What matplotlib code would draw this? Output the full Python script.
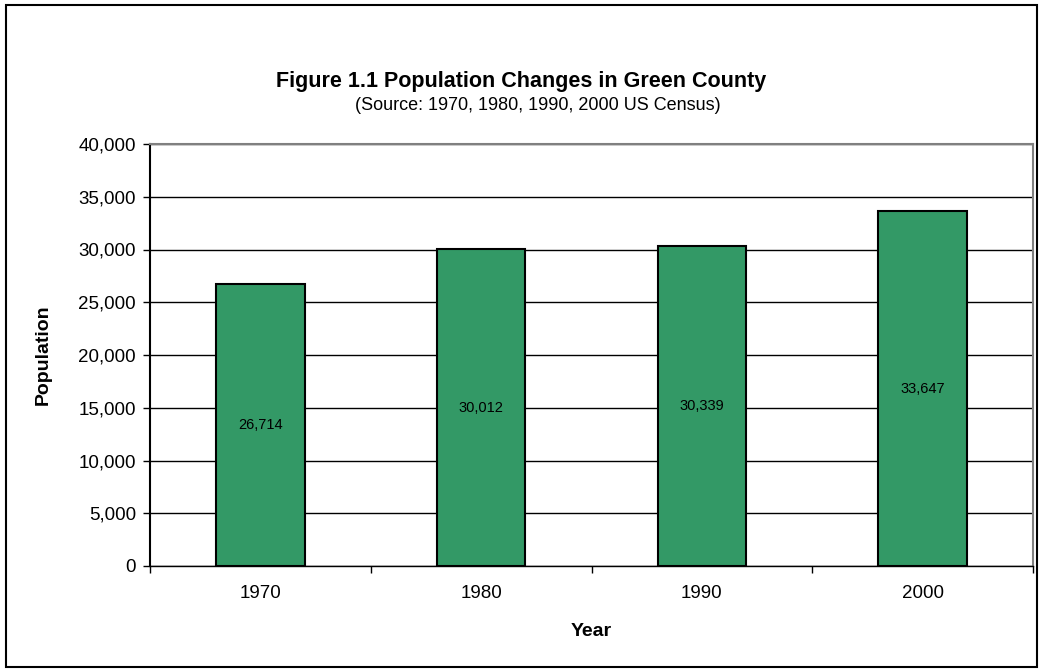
import matplotlib
matplotlib.use("Agg")
import matplotlib.pyplot as plt
from matplotlib.patches import Rectangle
from matplotlib.ticker import FuncFormatter, MultipleLocator

years = ["1970", "1980", "1990", "2000"]
population = [26714, 30012, 30339, 33647]

plt.rcParams['font.family'] = ['Liberation Sans', 'DejaVu Sans']

W, H = 1043, 672
fig = plt.figure(figsize=(W / 100, H / 100), dpi=100)
fig.patch.set_facecolor('white')

# outer border
fig.patches.append(Rectangle((6 / W, 5 / H), (W - 12) / W, (H - 10) / H,
                             transform=fig.transFigure, fill=False,
                             edgecolor='black', linewidth=1.5))

left, right, top, bottom = 150, 1033, 144, 566
ax = fig.add_axes([left / W, 1 - bottom / H, (right - left) / W, (bottom - top) / H])

x = list(range(len(years)))
bars = ax.bar(x, population, width=0.4, color='#339966', edgecolor='black',
              linewidth=1.5, zorder=3)
for xi, v in zip(x, population):
    ax.text(xi, v / 2, f"{v:,}", ha='center', va='center', fontsize=10.5, zorder=4)

ax.set_xlim(-0.5, len(years) - 0.5)
ax.set_ylim(0, 40000)
ax.yaxis.set_major_locator(MultipleLocator(5000))
ax.yaxis.set_major_formatter(FuncFormatter(lambda v, p: f"{int(v):,}"))
ax.grid(axis='y', color='black', linewidth=1, zorder=0)

ax.set_xticks(x)
ax.set_xticklabels(years)
ax.set_xticks([i + 0.5 for i in range(-1, len(years))], minor=True)
ax.tick_params(axis='x', which='major', length=0, pad=14, labelsize=13.5)
ax.tick_params(axis='x', which='minor', length=5, width=1, direction='out')
ax.tick_params(axis='y', length=5, width=1, direction='out', labelsize=13.5, pad=5)

for s in ['top', 'right']:
    ax.spines[s].set_color('#808080')
    ax.spines[s].set_linewidth(1.5)
ax.spines['left'].set_color('black')
ax.spines['left'].set_linewidth(1.5)
ax.spines['bottom'].set_color('black')
ax.spines['bottom'].set_linewidth(1)

ax.set_ylabel("Population", fontsize=14, fontweight='bold', va='center')
ax.yaxis.set_label_coords((43 - left) / (right - left), 0.5)
ax.set_xlabel("Year", fontsize=14, fontweight='bold', va='center')
ax.xaxis.set_label_coords(0.5, -(632 - bottom) / (bottom - top))

fig.text(521 / W, 1 - 82 / H, "Figure 1.1 Population Changes in Green County",
         ha='center', va='center', fontsize=15.5, fontweight='bold')
fig.text(538 / W, 1 - 105 / H, "(Source: 1970, 1980, 1990, 2000 US Census)",
         ha='center', va='center', fontsize=13)

fig.savefig("out.png", dpi=100)
